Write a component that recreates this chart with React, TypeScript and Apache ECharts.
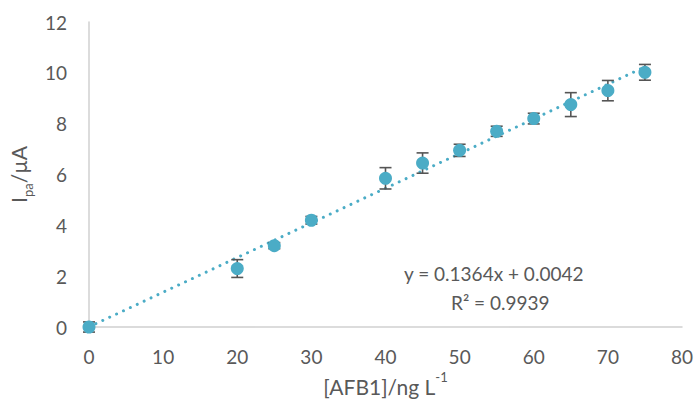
import React, { useEffect, useRef } from "react";
import * as echarts from "echarts";

const concentrations = [0, 20, 25, 30, 40, 45, 50, 55, 60, 65, 70, 75];
const currents = [0, 2.3, 3.2, 4.2, 5.85, 6.45, 6.95, 7.7, 8.2, 8.75, 9.3, 10.02];
const errors = [0.2, 0.35, 0.12, 0.15, 0.42, 0.4, 0.24, 0.2, 0.21, 0.47, 0.4, 0.31];
const trendX = [0, 75];
const trendY = [0.0042, 10.2342];
const equationText = "y = 0.1364x + 0.0042";
const r2Text = "R² = 0.9939";

const FONT = "Lato, 'Open Sans', sans-serif";
const TEXT = "#595959";
const BLUE = "#4BACC6";

export default function App() {
  const ref = useRef<HTMLDivElement>(null);
  useEffect(() => {
    if (!ref.current) return;
    const chart = echarts.init(ref.current, null, { renderer: "svg" });
    const points = concentrations.map((x, i) => [x, currents[i]]);
    const bars = concentrations.map((x, i) => [x, currents[i] - errors[i], currents[i] + errors[i]]);
    const trend = trendX.map((x, i) => [x, trendY[i]]);
    chart.setOption({
      animation: false,
      textStyle: { fontFamily: FONT },
      grid: { left: 89, right: 15, top: 22, bottom: 84 },
      xAxis: {
        type: "value",
        min: 0,
        max: 80,
        interval: 10,
        splitLine: { show: false },
        axisTick: { show: false },
        axisLine: { show: true, lineStyle: { color: "#D0D0D0", width: 1.5 } },
        axisLabel: { color: TEXT, fontSize: 19, margin: 20, fontFamily: FONT },
        name: "{m|[AFB1]/ng L}{s|-1}",
        nameLocation: "middle",
        nameGap: 38,
        nameTextStyle: {
          rich: {
            m: { fontSize: 21, color: TEXT, fontFamily: FONT, lineHeight: 26, verticalAlign: "bottom" },
            s: { fontSize: 13, color: TEXT, fontFamily: FONT, lineHeight: 26, verticalAlign: "top" },
          },
        },
      },
      yAxis: {
        type: "value",
        min: 0,
        max: 12,
        interval: 2,
        splitLine: { show: false },
        axisTick: { show: false },
        axisLine: { show: true, lineStyle: { color: "#D0D0D0", width: 1.5 } },
        axisLabel: { color: TEXT, fontSize: 19, margin: 22, fontFamily: FONT },
        name: "{m|I}{s|pa}{m|/µA}",
        nameLocation: "middle",
        nameGap: 55,
        nameTextStyle: {
          rich: {
            m: { fontSize: 21, color: TEXT, fontFamily: FONT, lineHeight: 26, verticalAlign: "top" },
            s: { fontSize: 13, color: TEXT, fontFamily: FONT, lineHeight: 26, verticalAlign: "bottom" },
          },
        },
      },
      series: [
        {
          type: "line",
          data: trend,
          showSymbol: false,
          silent: true,
          z: 1,
          lineStyle: { color: BLUE, width: 3, type: [0.01, 7.6], cap: "round" },
        },
        {
          type: "custom",
          data: bars,
          z: 3,
          renderItem: (params: any, api: any) => {
            const x = api.value(0);
            const lo = api.coord([x, api.value(1)]);
            const hi = api.coord([x, api.value(2)]);
            const w = 6;
            const style = { stroke: "#555555", lineWidth: 1.6 };
            return {
              type: "group",
              children: [
                { type: "line", shape: { x1: lo[0], y1: lo[1], x2: hi[0], y2: hi[1] }, style },
                { type: "line", shape: { x1: lo[0] - w, y1: lo[1], x2: lo[0] + w, y2: lo[1] }, style },
                { type: "line", shape: { x1: hi[0] - w, y1: hi[1], x2: hi[0] + w, y2: hi[1] }, style },
              ],
            };
          },
        },
        {
          type: "scatter",
          data: points,
          symbolSize: 13,
          z: 4,
          itemStyle: { color: BLUE, opacity: 1 },
        },
      ],
      graphic: [
        {
          type: "text",
          left: 404,
          top: 264,
          style: { text: equationText, fill: TEXT, font: `19px ${FONT}` },
        },
        {
          type: "text",
          left: 451,
          top: 293,
          style: { text: r2Text, fill: TEXT, font: `19px ${FONT}` },
        },
      ],
    });
    return () => chart.dispose();
  }, []);
  return <div ref={ref} style={{ width: 697, height: 411, position: "absolute", left: 0, top: 0 }} />;
}
